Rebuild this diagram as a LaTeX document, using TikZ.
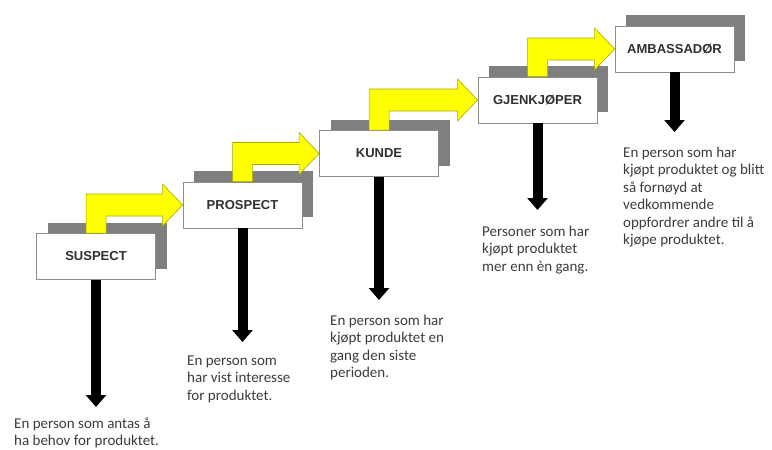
\documentclass[tikz,border=0pt]{standalone}
\usepackage{fontspec}
\setmainfont{Carlito}
\newfontfamily\labelfont{Liberation Sans}
\usetikzlibrary{calc,shadows,arrows.meta}
\definecolor{shadowgray}{HTML}{7F7F7F}
\definecolor{boxborder}{HTML}{8C8C8C}
\definecolor{arrowyellow}{HTML}{FFFF00}
\definecolor{arrowedge}{HTML}{A8A800}
\definecolor{desctext}{HTML}{3C3C3C}
\definecolor{labeltext}{HTML}{303030}
\begin{document}
\begin{tikzpicture}[x=1pt,y=-1pt,
  stagebox/.style={draw=boxborder, line width=0.8pt, fill=white,
    minimum width=119pt, minimum height=46pt, inner sep=0pt,
    font=\labelfont\bfseries\fontsize{13}{15}\selectfont, text=labeltext,
    general shadow={fill=shadowgray, shadow xshift=11pt, shadow yshift=11pt}},
  stepconn/.style={fill=arrowyellow, draw=arrowedge, line width=0.6pt, line join=miter},
  downarrow/.style={draw=black, line width=10pt,
    -{Triangle[width=20pt,length=12pt]}},
  desc/.style={anchor=north west, align=left, inner sep=0pt,
    font=\fontsize{15}{17.5}\selectfont, text=desctext}]
\useasboundingbox (0,0) rectangle (772,450);

% stage boxes
\node[stagebox] (s1) at (96,256.5) {SUSPECT};
\node[stagebox] (s2) at (242.5,205) {PROSPECT};
\node[stagebox] (s3) at (379,153.5) {KUNDE};
\node[stagebox] (s4) at (537.5,100) {GJENKJØPER};
\node[stagebox] (s5) at (674.5,49) {AMBASSADØR};

% yellow step connectors
\foreach \a/\b in {s1/s2, s2/s3, s3/s4, s4/s5}{
  \draw[stepconn] let \p1=(\a.north west), \p2=(\b.west) in
    (\x1+50pt,\y1) -- (\x1+50pt,\y2+11pt) -- (\x2-20pt,\y2+11pt)
    -- (\x2-20pt,\y2+21pt) -- (\b.west) -- (\x2-20pt,\y2-21pt)
    -- (\x2-20pt,\y2-11pt) -- (\x1+70pt,\y2-11pt) -- (\x1+70pt,\y1) -- cycle;
}

% black arrows down
\coordinate (e1) at (96,407);
\coordinate (e2) at (242.5,342);
\coordinate (e3) at (379,300);
\coordinate (e4) at (537.5,210);
\coordinate (e5) at (674.5,132);
\foreach \i in {1,...,5}{
  \draw[downarrow] (s\i.south) -- (e\i);
}

% descriptions (top = first baseline - strut height 12.25)
\node[desc] (d1) at (14,415.75) {\strut En person som antas å\\ha behov for produktet.};
\node[desc] (d2) at (187,352.75) {\strut En person som\\har vist interesse\\for produktet.};
\node[desc] (d3) at (330,312.75) {\strut En person som har\\kjøpt produktet en\\gang den siste\\perioden.};
\node[desc] (d4) at (482,223.75) {\strut Personer som har\\kjøpt produktet\\mer enn èn gang.};
\node[desc] (d5) at (623,144.75) {\strut En person som har\\kjøpt produktet og blitt\\så fornøyd at\\vedkommende\\oppfordrer andre til å\\kjøpe produktet.};
\end{tikzpicture}
\end{document}
